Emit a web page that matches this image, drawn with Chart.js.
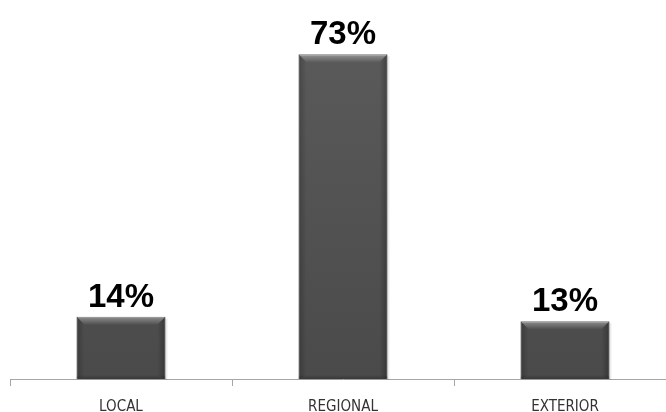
<!DOCTYPE html>
<html>
<head>
<meta charset="utf-8">
<script src="https://cdn.jsdelivr.net/npm/chart.js@4/dist/chart.umd.min.js"></script>
<style>
  html, body { margin: 0; padding: 0; background: #fff; overflow: hidden; }
  #wrap { width: 680px; height: 412px; position: relative; }
</style>
</head>
<body>
<div id="wrap"><canvas id="shareChart"></canvas></div>
<script>
// origin of customers, share by area
const CATEGORIES = ['LOCAL', 'REGIONAL', 'EXTERIOR'];
const SHARES = [14, 73, 13];

const BAR_TOP = '#5b5b5b';
const BAR_BOTTOM = '#4a4a4a';

function barGradient(ctx) {
  const area = ctx.chart.chartArea;
  if (!area) return BAR_BOTTOM;
  const g = ctx.chart.ctx.createLinearGradient(0, area.top, 0, area.bottom);
  g.addColorStop(0, BAR_TOP);
  g.addColorStop(1, BAR_BOTTOM);
  return g;
}

// soft shadow plus bevelled edges on each bar
const bevelPlugin = {
  id: 'bevel',
  beforeDatasetsDraw(chart) {
    const c = chart.ctx;
    chart.getDatasetMeta(0).data.forEach(bar => {
      const l = bar.x - bar.width / 2, r = bar.x + bar.width / 2;
      c.save();
      c.fillStyle = 'rgba(0,0,0,0.08)';
      c.fillRect(l + 1, bar.y + 2, r - l + 1, bar.base - bar.y - 1);
      c.restore();
    });
  },
  afterDatasetsDraw(chart) {
    const c = chart.ctx;
    const bw = 8;
    chart.getDatasetMeta(0).data.forEach(bar => {
      const l = bar.x - bar.width / 2, r = bar.x + bar.width / 2;
      const t = bar.y, b = bar.base;
      c.save();
      // top highlight
      let g = c.createLinearGradient(0, t, 0, t + bw);
      g.addColorStop(0, 'rgba(255,255,255,0.38)');
      g.addColorStop(1, 'rgba(255,255,255,0.02)');
      c.fillStyle = g;
      c.beginPath();
      c.moveTo(l, t); c.lineTo(r, t); c.lineTo(r - bw, t + bw); c.lineTo(l + bw, t + bw);
      c.closePath(); c.fill();
      // left edge
      g = c.createLinearGradient(l, 0, l + bw, 0);
      g.addColorStop(0, 'rgba(0,0,0,0.22)');
      g.addColorStop(1, 'rgba(0,0,0,0)');
      c.fillStyle = g;
      c.beginPath();
      c.moveTo(l, t); c.lineTo(l + bw, t + bw); c.lineTo(l + bw, b - 3); c.lineTo(l, b);
      c.closePath(); c.fill();
      // right edge
      g = c.createLinearGradient(r, 0, r - bw, 0);
      g.addColorStop(0, 'rgba(0,0,0,0.28)');
      g.addColorStop(1, 'rgba(0,0,0,0)');
      c.fillStyle = g;
      c.beginPath();
      c.moveTo(r, t); c.lineTo(r - bw, t + bw); c.lineTo(r - bw, b - 3); c.lineTo(r, b);
      c.closePath(); c.fill();
      // bottom edge
      g = c.createLinearGradient(0, b, 0, b - 4);
      g.addColorStop(0, 'rgba(0,0,0,0.25)');
      g.addColorStop(1, 'rgba(0,0,0,0)');
      c.fillStyle = g;
      c.fillRect(l, b - 4, r - l, 4);
      c.restore();
    });
  }
};

// value labels above the bars
const valueLabels = {
  id: 'valueLabels',
  afterDatasetsDraw(chart) {
    const c = chart.ctx;
    const ds = chart.data.datasets[0];
    c.save();
    c.font = 'bold 33px "Liberation Sans", Arial, sans-serif';
    c.fillStyle = '#000';
    c.textAlign = 'center';
    c.textBaseline = 'alphabetic';
    chart.getDatasetMeta(0).data.forEach((bar, i) => {
      c.fillText(ds.data[i] + '%', bar.x, bar.y - 10);
    });
    c.restore();
  }
};

new Chart(document.getElementById('shareChart'), {
  type: 'bar',
  data: {
    labels: CATEGORIES,
    datasets: [{
      data: SHARES,
      backgroundColor: barGradient,
      borderColor: '#3c3c3c',
      borderWidth: 1,
      barPercentage: 0.4,
      categoryPercentage: 1
    }]
  },
  options: {
    responsive: true,
    maintainAspectRatio: false,
    animation: false,
    layout: { padding: { top: 23, left: 10, right: 4, bottom: 0 } },
    plugins: { legend: { display: false }, tooltip: { enabled: false } },
    scales: {
      x: {
        afterFit(scale) { scale.height = 33; },
        grid: { display: true, drawOnChartArea: false, drawTicks: true, tickLength: 7, color: '#a6a6a6', offset: true },
        border: { display: true, color: '#a6a6a6', width: 1 },
        ticks: {
          color: '#333',
          padding: 12,
          font: { size: 15, family: '"Liberation Sans Narrow", "DejaVu Sans Condensed", Arial, sans-serif' }
        }
      },
      y: {
        display: false,
        min: 0,
        max: 80
      }
    }
  },
  plugins: [bevelPlugin, valueLabels]
});
</script>
</body>
</html>
